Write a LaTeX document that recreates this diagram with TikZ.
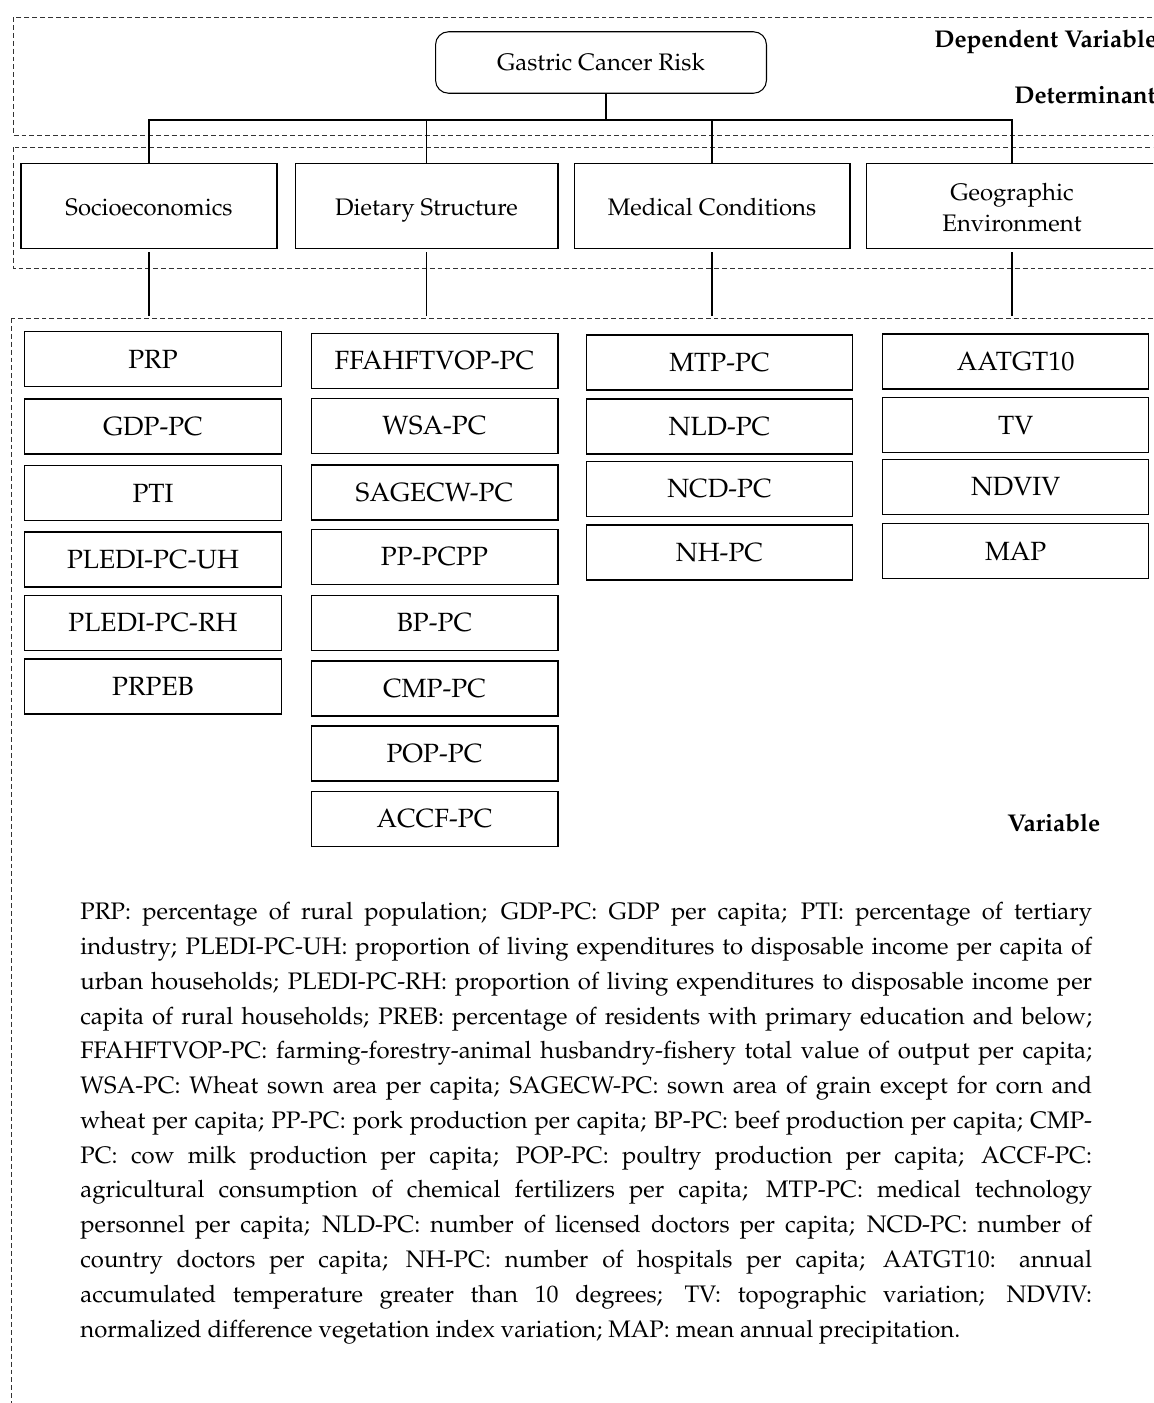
\documentclass[tikz,border=0pt]{standalone}
\usepackage[T1]{fontenc}
\usepackage{mathpazo}
\begin{document}
\begin{tikzpicture}[x=0.02cm,y=-0.02cm,
    region/.style={draw=black!80, line width=0.5pt, dash pattern=on 2.8pt off 1.7pt},
    link/.style={draw, line width=0.6pt},
    riskbox/.style={draw, line width=0.6pt, rounded corners=0.26cm, minimum width=6.62cm,
        minimum height=1.23cm, font=\fontsize{13.6}{16}\selectfont},
    catbox/.style={draw, line width=0.6pt, minimum height=1.7cm, align=center,
        font=\fontsize{13.6}{17.6}\selectfont, execute at begin node={\rule[-0.3em]{0pt}{1.37em}}},
    varbox/.style={draw, line width=0.6pt, minimum height=1.1cm, font=\fontsize{15}{18}\selectfont},
    tag/.style={anchor=west, inner sep=0pt, font=\fontsize{13.8}{16}\selectfont\bfseries}
]
    \useasboundingbox (0,0) rectangle (1153,1403);
    \clip (0,0) rectangle (1153,1403);

    % dashed regions
    \draw [region] (13,17) rectangle (1180,135);
    \draw [region] (13,147) rectangle (1180,268);
    \draw [region] (11,318) rectangle (1180,1420);

    \node [tag] (depvar) at (934,42) {Dependent Variable};
    \node [tag] (determ) at (1014,95) {Determinant};
    \node [tag] (varlab) at (1007,823) {Variable};

    % top of the tree
    \node [riskbox] (risk) at (601,62.5) {Gastric Cancer Risk};
    \coordinate (bus) at (606,120);

    \node [catbox, minimum width=5.12cm] (socio) at (149,206) {Socioeconomics};
    \node [catbox, minimum width=5.26cm] (diet) at (426.5,206) {Dietary Structure};
    \node [catbox, minimum width=5.52cm] (med) at (712,206) {Medical Conditions};
    \node [catbox, minimum width=5.84cm] (geo) at (1012,206)
        {\raisebox{-2pt}[\height][\depth]{\begin{tabular}{@{}c@{}}Geographic\\Environment\end{tabular}}};

    \draw [link] (risk.south -| bus) -- (bus);
    \foreach \c in {socio,diet,med,geo}
        \draw [link] (\c.north) |- (bus);
    \foreach \c in {socio,diet,med,geo}
        \draw [link] ([yshift=-0.06cm]\c.south) -- ++(0,64);

    % variables
    \foreach \lab/\y [count=\i] in {PRP/359,GDP-PC/426.5,PTI/493,PLEDI-PC-UH/559.5,PLEDI-PC-RH/623,PRPEB/686.5}
        \node [varbox, minimum width=5.15cm] (soc\i) at (153,\y) {\lab};
    \foreach \lab/\y [count=\i] in {FFAHFTVOP-PC/361,WSA-PC/426,SAGECW-PC/492.5,PP-PCPP/557,BP-PC/623,CMP-PC/688.5,POP-PC/753.5,ACCF-PC/819}
        \node [varbox, minimum width=4.94cm] (diet\i) at (434.5,\y) {\lab};
    \foreach \lab/\y [count=\i] in {MTP-PC/362.5,NLD-PC/426.5,NCD-PC/489,NH-PC/552.5}
        \node [varbox, minimum width=5.32cm] (med\i) at (719.5,\y) {\lab};
    \foreach \lab/\y [count=\i] in {AATGT10/361.5,TV/425,NDVIV/487,MAP/551}
        \node [varbox, minimum width=5.32cm] (geo\i) at (1015.7,\y) {\lab};

    % abbreviations
    \node [anchor=north west, inner sep=0pt, text width=20.24cm, align=justify,
        font=\fontsize{13.6}{19.8}\selectfont] (legend) at (80,902)
        {\tolerance=9999\hyphenpenalty=10000
        PRP: percentage of rural population; GDP-PC: GDP per capita; PTI: percentage of tertiary\linebreak
        industry; PLEDI-PC-UH: proportion of living expenditures to disposable income per capita of\linebreak
        urban households; PLEDI-PC-RH: proportion of living expenditures to disposable income per\linebreak
        capita of rural households; PREB: percentage of residents with primary education and below;\linebreak
        FFAHFTVOP-PC: farming-forestry-animal husbandry-fishery total value of output per capita;\linebreak
        WSA-PC: Wheat sown area per capita; SAGECW-PC: sown area of grain except for corn and\linebreak
        wheat per capita; PP-PC: pork production per capita; BP-PC: beef production per capita; CMP-\linebreak
        PC: cow milk production per capita; POP-PC: poultry production per capita; ACCF-PC:\linebreak
        agricultural consumption of chemical fertilizers per capita; MTP-PC: medical technology\linebreak
        personnel per capita; NLD-PC: number of licensed doctors per capita; NCD-PC: number of\linebreak
        country doctors per capita; NH-PC: number of hospitals per capita; AATGT10: annual\linebreak
        accumulated temperature greater than 10 degrees; TV: topographic variation; NDVIV:\linebreak
        normalized difference vegetation index variation; MAP: mean annual precipitation.};
\end{tikzpicture}
\end{document}
